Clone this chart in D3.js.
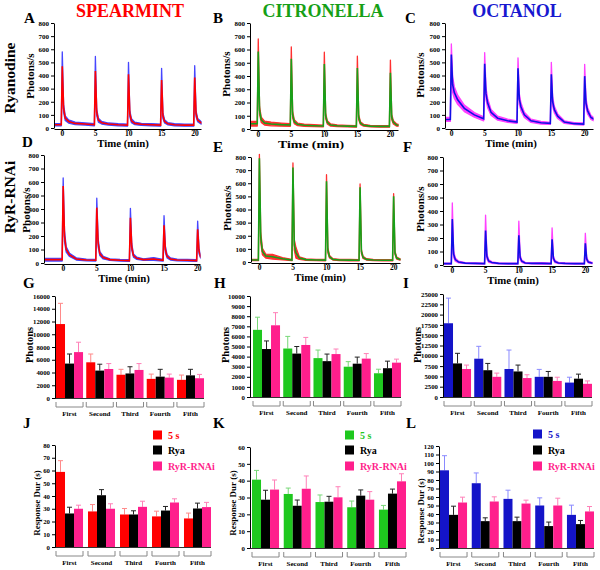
<!DOCTYPE html>
<html><head><meta charset="utf-8">
<script src="https://cdn.jsdelivr.net/npm/d3@7"></script>
<style>
body{margin:0;background:#fff}
svg{display:block}
text{font-family:"Liberation Serif","Times New Roman",serif;font-weight:bold}
</style>
</head><body>
<svg id="c" width="600" height="570"></svg>
<script>
// ---------- DATA ----------
const odors = ["SPEARMINT", "CITRONELLA", "OCTANOL"];
const rowLabels = ["Ryanodine", "RyR-RNAi"];
const traceYTicks = [0, 100, 200, 300, 400, 500, 600, 700, 800];
const traceXTicks = [0, 5, 10, 15, 20];
// time points (min)
const traceTime = [-3, -0.1, 0.05, 0.25, 0.5, 1, 2, 3.5, 4.9, 5.05, 5.25, 5.5, 6, 7, 8.5, 9.9, 10.05, 10.25, 10.5, 11, 12, 13.5, 14.9, 15.05, 15.25, 15.5, 16, 17, 18.5, 19.9, 20.05, 20.25, 20.5, 21, 22];
// A: spearmint, ryanodine (mean red, band blue)
const meanA = [25,25,470,150,75,50,35,30,25, 435,120,60,40,30,25,22, 410,110,55,35,28,25,22, 365,95,50,32,25,22,22, 385,110,60,40,30];
const semA  = [8,8,110,30,18,12,10,8,8, 110,25,15,10,8,8,8, 90,25,15,10,8,8,8, 90,22,12,8,8,8,8, 90,22,12,10,8];
// B: citronella, ryanodine (mean green, band red)
const meanB = [40,40,585,140,70,45,38,33,30, 530,110,55,35,28,25,23, 490,100,50,30,25,22,20, 460,90,45,28,22,20,20, 425,90,50,30,25];
const semB  = [18,18,95,30,20,15,14,12,10, 90,25,15,10,8,7,6, 90,22,12,8,6,6,6, 90,20,10,7,6,6,6, 95,20,12,8,6];
// C: octanol, ryanodine (mean blue, band magenta)
const meanC = [65,65,560,330,270,215,150,100,70, 490,260,190,120,75,55,45, 455,220,160,100,55,40,35, 410,200,140,90,45,33,30, 395,190,130,80,50];
const semC  = [15,15,80,60,45,35,25,18,15, 85,45,35,22,15,12,10, 80,40,30,20,12,10,8, 90,35,25,18,10,8,8, 90,35,25,15,10];
// D: spearmint, RyR-RNAi (mean red, band blue)
const meanD = [25,25,570,200,100,60,30,22,20, 410,150,70,40,25,20,18, 335,120,55,35,25,30,20, 280,100,50,30,22,20,18, 250,90,45,30,25];
const semD  = [10,10,60,40,20,12,8,6,6, 70,30,15,10,6,6,6, 70,25,12,8,6,10,6, 70,25,12,8,6,6,6, 60,20,10,8,6];
// E: citronella, RyR-RNAi (mean green, band red)
const meanE = [15,15,790,190,80,45,40,25,15, 720,130,70,30,18,15,14, 615,90,40,20,15,14,13, 570,80,35,20,15,13,13, 500,70,30,20,15];
const semE  = [5,5,30,40,25,15,18,8,5, 35,40,40,10,5,5,5, 50,20,10,5,5,5,5, 25,15,8,5,5,5,5, 20,12,8,5,5];
// F: octanol, RyR-RNAi (mean blue, band magenta)
const meanF = [10,10,340,80,40,22,14,12,10, 255,65,30,18,12,10,10, 220,55,28,15,12,12,10, 190,50,25,15,12,10,10, 160,45,22,15,12];
const semF  = [4,4,120,25,12,6,4,4,4, 115,20,10,5,4,4,4, 105,18,8,5,4,6,4, 85,15,8,5,4,4,4, 75,14,7,5,4];

const groups = ["First", "Second", "Third", "Fourth", "Fifth"];
const seriesNames = ["5 s", "Rya", "RyR-RNAi"];
// G: spearmint photons
const gMean5s = [11600, 5600, 3650, 3000, 2850], gSem5s = [3250, 1300, 850, 750, 750];
const gMeanRya = [5400, 4300, 3850, 3350, 3550], gSemRya = [1500, 1000, 1050, 1150, 950];
const gMeanRnai = [7200, 4550, 4400, 3200, 3100], gSemRnai = [1550, 850, 1000, 550, 600];
// H: citronella photons
const hMean5s = [6650, 4800, 3850, 3000, 2350], hSem5s = [1250, 1200, 800, 500, 400];
const hMeanRya = [4750, 4300, 3550, 3300, 2850], hSemRya = [800, 700, 700, 650, 700];
const hMeanRnai = [7100, 5150, 4250, 3800, 3400], hSemRnai = [1250, 750, 500, 500, 350];
// I: octanol photons
const iMean5s = [17900, 9300, 6800, 4900, 3500], iSem5s = [6100, 3000, 4600, 1800, 1300];
const iMeanRya = [8150, 6500, 6200, 4900, 4450], iSemRya = [2450, 1650, 1550, 1300, 1100];
const iMeanRnai = [6800, 4900, 4600, 3900, 3200], iSemRnai = [950, 900, 800, 900, 700];
// J: spearmint duration (s)
const jMean5s = [58.9, 27.9, 25.5, 24, 22.4], jSem5s = [8.8, 5.4, 4.7, 4.1, 4.2];
const jMeanRya = [26.3, 40.6, 25.5, 28.6, 30.2], jSemRya = [4.9, 4.4, 2.9, 3.2, 4.2];
const jMeanRnai = [30, 30, 31.5, 34.9, 31.3], jSemRnai = [2.8, 3.9, 4.4, 2.9, 3.7];
// K: citronella duration (s)
const kMean5s = [40.6, 32.1, 27.3, 24.2, 22.8], kSem5s = [5.5, 3.5, 4.2, 3.7, 2.5];
const kMeanRya = [28.7, 25.1, 27.5, 31.1, 32.3], kSemRya = [5.6, 3.4, 3.2, 3.4, 2.7];
const kMeanRnai = [34.7, 35.2, 30.1, 28.7, 39.6], kSemRnai = [5.7, 7.6, 6.3, 4.8, 4.5];
// L: octanol duration (s)
const lMean5s = [91.4, 76.2, 57.8, 50, 39], lSem5s = [17.2, 12.1, 10.2, 9, 11.4];
const lMeanRya = [39, 31.6, 31.6, 25.8, 28.1], lSemRya = [10.2, 3.9, 4.7, 4.7, 4.3];
const lMeanRnai = [53.5, 54.7, 52.3, 50, 43], lSemRnai = [6.3, 5.5, 4, 8.6, 5.8];
const gTicks = [0, 2000, 4000, 6000, 8000, 10000, 12000, 14000, 16000];
const hTicks = [0, 1000, 2000, 3000, 4000, 5000, 6000, 7000, 8000, 9000, 10000];
const iTicks = [0, 2500, 5000, 7500, 10000, 12500, 15000, 17500, 20000, 22500, 25000];
const jTicks = [0, 10, 20, 30, 40, 50, 60, 70, 80];
const kTicks = [0, 10, 20, 30, 40, 50, 60];
const lTicks = [0, 10, 20, 30, 40, 50, 60, 70, 80, 90, 100, 110, 120];

// ---------- STYLE ----------
const RED = "#ff0000", GREEN_LINE = "#18a018", BLUE_LINE = "#1010e6";
const BAND_BLUE = "#4646ff", BAND_RED = "#ff3030", BAND_MAG = "#ff40ff";
const BAR_RED = "#ff0000", BAR_BLACK = "#000000", BAR_PINK = "#ff1f8c";
const BAR_GREEN = "#1ec81e", BAR_BLUE = "#1414c8";
const svg = d3.select("#c");
const fmt = d3.format("d");

function styleAxis(a, size) {
  a.attr("font-family", null).attr("font-size", null);
  a.selectAll("text").style("font-size", size + "px").attr("fill", "#000");
  a.selectAll("line").attr("stroke", "#000");
  a.select(".domain").attr("stroke", "#000");
}

function tracePanel(c) {
  const x = d3.scaleLinear().domain(c.xDomain).range([c.left, c.right]);
  const y = d3.scaleLinear().domain([0, 800]).range([c.bottom, c.top]);
  const g = svg.append("g");
  const cid = "clip" + c.id;
  svg.append("clipPath").attr("id", cid).append("rect")
    .attr("x", c.left + 0.5).attr("y", c.top - 8).attr("width", c.right - c.left).attr("height", c.bottom - c.top + 8);
  const pts = traceTime.map((t, i) => ({t, m: c.mean[i], s: c.sem[i]}));
  const p = g.append("g").attr("clip-path", `url(#${cid})`);
  p.append("path").datum(pts)
    .attr("d", d3.area().x(d => x(d.t)).y0(d => y(Math.max(0, d.m - d.s))).y1(d => y(d.m + d.s)))
    .attr("fill", c.band).attr("stroke", c.band).attr("stroke-width", 1.3).attr("stroke-linejoin", "round");
  p.append("path").datum(pts)
    .attr("d", d3.line().x(d => x(d.t)).y(d => y(d.m)))
    .attr("fill", "none").attr("stroke", c.line).attr("stroke-width", 1.6);
  const ya = g.append("g").attr("transform", `translate(${c.left},0)`)
    .call(d3.axisLeft(y).tickValues(traceYTicks).tickFormat(fmt).tickSize(3).tickSizeOuter(0).tickPadding(2));
  styleAxis(ya, 7);
  const xa = g.append("g").attr("transform", `translate(0,${c.bottom + 1})`)
    .call(d3.axisBottom(x).tickValues(traceXTicks).tickFormat(fmt).tickSize(2).tickSizeOuter(0));
  styleAxis(xa, 7.5);
  xa.selectAll("text").attr("y", 1.5).attr("dy", "0.71em");
  g.append("text").attr("transform", `translate(${c.ylabX},${c.ylabY}) rotate(-90)`)
    .attr("text-anchor", "middle").style("font-size", "11px").text("Photons/s");
  const tl = g.append("text").attr("x", c.xlabX).attr("y", c.bottom + 18.5).attr("text-anchor", "middle")
    .style("font-size", "10.8px").text("Time (min)");
  if (c.xlabLen) tl.attr("textLength", c.xlabLen).attr("lengthAdjust", "spacingAndGlyphs");
}

function barPanel(c) {
  const x0 = d3.scaleBand().domain(groups).range(c.xRange).paddingInner(c.pad).paddingOuter(0);
  const x1 = d3.scaleBand().domain(seriesNames).range([0, x0.bandwidth()]);
  const y = d3.scaleLinear().domain([0, c.yMax]).range([c.bottom, c.top]);
  const g = svg.append("g");
  c.series.forEach((s, si) => {
    const name = seriesNames[si];
    const gs = g.append("g");
    groups.forEach((grp, gi) => {
      const bx = x0(grp) + x1(name), bw = x1.bandwidth(), cx = bx + bw / 2;
      const top = y(s.mean[gi]), etop = y(s.mean[gi] + s.sem[gi]);
      gs.append("line").attr("x1", cx).attr("x2", cx).attr("y1", top).attr("y2", etop)
        .attr("stroke", s.err).attr("stroke-width", 1);
      gs.append("line").attr("x1", cx - 2.5).attr("x2", cx + 2.5).attr("y1", etop).attr("y2", etop)
        .attr("stroke", s.err).attr("stroke-width", 1);
      gs.append("rect").attr("x", bx).attr("y", top).attr("width", bw).attr("height", c.bottom - top)
        .attr("fill", s.color);
    });
  });
  const ya = g.append("g").attr("transform", `translate(${c.left},0)`)
    .call(d3.axisLeft(y).tickValues(c.ticks).tickFormat(fmt).tickSize(3).tickSizeOuter(0).tickPadding(2));
  styleAxis(ya, 6.8);
  g.append("line").attr("x1", c.left).attr("x2", c.xRange[1]).attr("y1", c.bottom + 0.5).attr("y2", c.bottom + 0.5)
    .attr("stroke", "#000").attr("stroke-width", 0.8);
  groups.forEach(grp => {
    const a = x0(grp), b = x0(grp) + x0.bandwidth();
    g.append("path").attr("d", `M${a},${c.bottom + 4}V${c.bottom + 9}H${b}V${c.bottom + 4}`)
      .attr("fill", "none").attr("stroke", "#888").attr("stroke-width", 1);
    g.append("text").attr("x", (a + b) / 2).attr("y", c.bottom + 18).attr("text-anchor", "middle")
      .style("font-size", "7px").text(grp);
  });
  g.append("text").attr("transform", `translate(${c.ylabX},${c.ylabY}) rotate(-90)`)
    .attr("text-anchor", "middle").style("font-size", c.ylabSize + "px").text(c.ylab);
  if (c.legend) {
    c.series.forEach((s, si) => {
      const ly = c.legend.y[si];
      g.append("rect").attr("x", c.legend.x).attr("y", ly - 4.5).attr("width", 9).attr("height", 9).attr("fill", s.color);
      g.append("text").attr("x", c.legend.x + 15).attr("y", ly + 3.5)
        .style("font-size", "10px").attr("fill", si === 1 ? "#000" : s.color).text(seriesNames[si]);
    });
  }
}

// ---------- TEXT LABELS ----------
const titleColors = [RED, "#16a016", "#1818d0"];
const titleX = [130, 323, 517];
odors.forEach((o, i) => svg.append("text").attr("x", titleX[i]).attr("y", 17).attr("text-anchor", "middle")
  .attr("fill", titleColors[i]).style("font-size", "18px").text(o));
svg.append("text").attr("transform", "translate(15,78) rotate(-90)").attr("text-anchor", "middle")
  .style("font-size", "15.5px").text(rowLabels[0]);
svg.append("text").attr("transform", "translate(15,197) rotate(-90)").attr("text-anchor", "middle")
  .style("font-size", "15.5px").text(rowLabels[1]);
const letters = [["A",24,23],["B",213,23],["C",405,23],["D",22,147],["E",213,152],["F",403,152],
  ["G",23,288],["H",214,288],["I",403,288],["J",23,428],["K",213,428],["L",406,428]];
letters.forEach(([t, x, y]) => svg.append("text").attr("x", x).attr("y", y).style("font-size", "15px").text(t));

// ---------- TRACES ----------
tracePanel({id:"A", xDomain:[-1.2, 21], left:54, right:201, top:23, bottom:128, mean:meanA, sem:semA, line:RED, band:BAND_BLUE, ylabX:33.5, ylabY:76, xlabX:123});
tracePanel({id:"B", xDomain:[-1.2, 21.2], left:250, right:398, top:23, bottom:129, mean:meanB, sem:semB, line:GREEN_LINE, band:BAND_RED, ylabX:230, ylabY:74, xlabX:311, xlabLen:66});
tracePanel({id:"C", xDomain:[-0.9, 21.3], left:445, right:593, top:23, bottom:128, mean:meanC, sem:semC, line:BLUE_LINE, band:BAND_MAG, ylabX:424, ylabY:75, xlabX:511});
tracePanel({id:"D", xDomain:[-2.8, 20.4], left:44, right:200, top:155, bottom:263, mean:meanD, sem:semD, line:RED, band:BAND_BLUE, ylabX:30, ylabY:210, xlabX:124});
tracePanel({id:"E", xDomain:[-1.2, 21], left:251, right:400, top:157, bottom:262, mean:meanE, sem:semE, line:GREEN_LINE, band:BAND_RED, ylabX:231, ylabY:208, xlabX:320});
tracePanel({id:"F", xDomain:[-1.35, 21.05], left:443, right:592, top:157, bottom:265, mean:meanF, sem:semF, line:BLUE_LINE, band:BAND_MAG, ylabX:424, ylabY:209, xlabX:513});

// ---------- BARS ----------
const ERR_RED = "#ff8a8a", ERR_BLACK = "#222", ERR_PINK = "#ff80b8", ERR_GREEN = "#78d878", ERR_BLUE = "#8a8aff";
const sRed = (m, s) => ({mean:m, sem:s, color:BAR_RED, err:ERR_RED});
const sGreen = (m, s) => ({mean:m, sem:s, color:BAR_GREEN, err:ERR_GREEN});
const sBlue = (m, s) => ({mean:m, sem:s, color:BAR_BLUE, err:ERR_BLUE});
const sBlack = (m, s) => ({mean:m, sem:s, color:BAR_BLACK, err:ERR_BLACK});
const sPink = (m, s) => ({mean:m, sem:s, color:BAR_PINK, err:ERR_PINK});

barPanel({xRange:[56, 204], pad:0.106, left:55, top:296, bottom:398, yMax:16000, ticks:gTicks,
  series:[sRed(gMean5s,gSem5s), sBlack(gMeanRya,gSemRya), sPink(gMeanRnai,gSemRnai)],
  ylab:"Photons", ylabX:33, ylabY:345, ylabSize:10.5});
barPanel({xRange:[253, 401], pad:0.106, left:250, top:296, bottom:397, yMax:10000, ticks:hTicks,
  series:[sGreen(hMean5s,hSem5s), sBlack(hMeanRya,hSemRya), sPink(hMeanRnai,hSemRnai)],
  ylab:"Photons", ylabX:229, ylabY:345, ylabSize:10.5});
barPanel({xRange:[444, 592], pad:0.106, left:443, top:294, bottom:397, yMax:25000, ticks:iTicks,
  series:[sBlue(iMean5s,iSem5s), sBlack(iMeanRya,iSemRya), sPink(iMeanRnai,iSemRnai)],
  ylab:"Photons", ylabX:421, ylabY:345, ylabSize:10.5});
barPanel({xRange:[56, 211], pad:0.156, left:55, top:445, bottom:547, yMax:80, ticks:jTicks,
  series:[sRed(jMean5s,jSem5s), sBlack(jMeanRya,jSemRya), sPink(jMeanRnai,jSemRnai)],
  ylab:"Response Dur (s)", ylabX:40, ylabY:503, ylabSize:9,
  legend:{x:153, y:[435, 450, 466]}});
barPanel({xRange:[252, 406], pad:0.148, left:250, top:447, bottom:548, yMax:60, ticks:kTicks,
  series:[sGreen(kMean5s,kSem5s), sBlack(kMeanRya,kSemRya), sPink(kMeanRnai,kSemRnai)],
  ylab:"Response Dur (s)", ylabX:236, ylabY:503, ylabSize:9,
  legend:{x:345, y:[435, 450, 466]}});
barPanel({xRange:[440, 594], pad:0.148, left:439, top:446, bottom:548, yMax:120, ticks:lTicks,
  series:[sBlue(lMean5s,lSem5s), sBlack(lMeanRya,lSemRya), sPink(lMeanRnai,lSemRnai)],
  ylab:"Response Dur (s)", ylabX:424, ylabY:511, ylabSize:9,
  legend:{x:533, y:[434, 450, 466]}});
</script>
</body></html>
